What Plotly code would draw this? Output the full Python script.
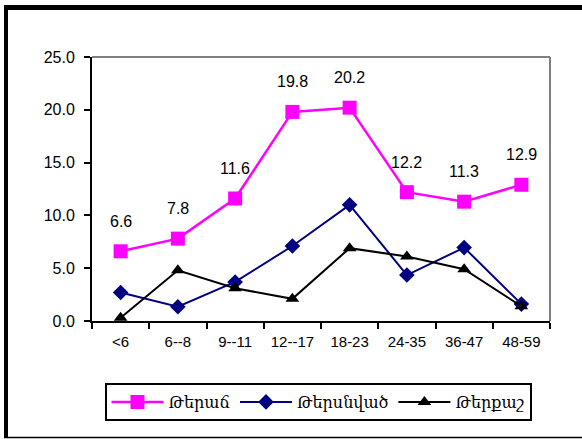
import plotly.graph_objects as go

categories = ["<6", "6--8", "9--11", "12--17", "18-23", "24-35", "36-47", "48-59"]
series_names = ["Թերաճ", "Թերսնված", "Թերքաշ"]
teratch = [6.6, 7.8, 11.6, 19.8, 20.2, 12.2, 11.3, 12.9]
tersnvats = [2.7, 1.35, 3.7, 7.1, 11.0, 4.35, 6.95, 1.6]
terkash = [0.3, 4.8, 3.1, 2.1, 6.9, 6.1, 4.9, 1.4]
y_ticks = [0, 5, 10, 15, 20, 25]

W, H = 582, 439
L, R, T, B = 92, 550, 57, 321  # plot area in pixels


def px_x(p):
    return (p - L) / (R - L)


def px_y(p):
    return (B - p) / (B - T)


FONT = "Liberation Sans, Arial, DejaVu Sans, sans-serif"

fig = go.Figure()
fig.add_trace(go.Scatter(
    x=categories, y=teratch, name=series_names[0], mode="lines+markers",
    line=dict(color="#FF00FF", width=2.5),
    marker=dict(symbol="square", size=14, color="#FF00FF"),
))
fig.add_trace(go.Scatter(
    x=categories, y=tersnvats, name=series_names[1], mode="lines+markers",
    line=dict(color="#000080", width=2),
    marker=dict(symbol="diamond", size=12, color="#000080"),
))
fig.add_trace(go.Scatter(
    x=categories, y=terkash, name=series_names[2], mode="lines+markers",
    line=dict(color="#000000", width=2),
    marker=dict(symbol="triangle-up", size=12, color="#000000"),
))

annotations = []
for c, v in zip(categories, teratch):
    annotations.append(dict(
        x=c, y=v, xref="x", yref="y", text=f"{v:.1f}", showarrow=False,
        yshift=30, font=dict(family=FONT, size=16, color="#000000"),
    ))

shapes = [
    # plot area grey border (top, right)
    dict(type="line", xref="paper", yref="paper", x0=0, x1=1, y0=1, y1=1,
         line=dict(color="#808080", width=2), layer="above"),
    dict(type="line", xref="paper", yref="paper", x0=1, x1=1, y0=0, y1=1,
         line=dict(color="#808080", width=2), layer="above"),
    # outer frame
    dict(type="line", xref="paper", yref="paper", x0=px_x(6), x1=px_x(6),
         y0=px_y(5), y1=px_y(438), line=dict(color="#000000", width=4)),
    dict(type="line", xref="paper", yref="paper", x0=px_x(4), x1=px_x(600),
         y0=px_y(7.5), y1=px_y(7.5), line=dict(color="#000000", width=5)),
    dict(type="line", xref="paper", yref="paper", x0=px_x(4), x1=px_x(600),
         y0=px_y(437.5), y1=px_y(437.5), line=dict(color="#000000", width=1.5)),
]

fig.update_layout(
    width=W, height=H,
    margin=dict(l=L, r=W - R, t=T, b=H - B, autoexpand=False),
    paper_bgcolor="white", plot_bgcolor="white",
    font=dict(family=FONT, size=15, color="#000000"),
    showlegend=True,
    legend=dict(
        orientation="h", x=px_x(318), xanchor="center", y=px_y(383), yanchor="top",
        bordercolor="#000000", borderwidth=2, bgcolor="white",
        font=dict(family="DejaVu Serif, DejaVu Sans, serif", size=16),
        itemwidth=52, tracegroupgap=0,
    ),
    annotations=annotations,
    shapes=shapes,
)
fig.update_xaxes(
    type="category", range=[-0.5, 7.5], tickson="boundaries",
    showline=True, linecolor="#000000", linewidth=2,
    ticks="outside", ticklen=6, tickwidth=2, tickcolor="#000000",
    showgrid=False, zeroline=False, ticklabelstandoff=6,
    tickfont=dict(family=FONT, size=15),
)
fig.update_yaxes(
    range=[0, 25], tickvals=y_ticks, tickformat=".1f",
    showline=True, linecolor="#000000", linewidth=2,
    ticks="outside", ticklen=6, tickwidth=2, tickcolor="#000000",
    showgrid=False, zeroline=False, ticklabelstandoff=6,
    tickfont=dict(family=FONT, size=16),
)

fig.write_html(
    "out.html",
    config={"displayModeBar": False},
    post_script="document.body.style.margin='0';document.body.style.overflow='hidden';",
)
